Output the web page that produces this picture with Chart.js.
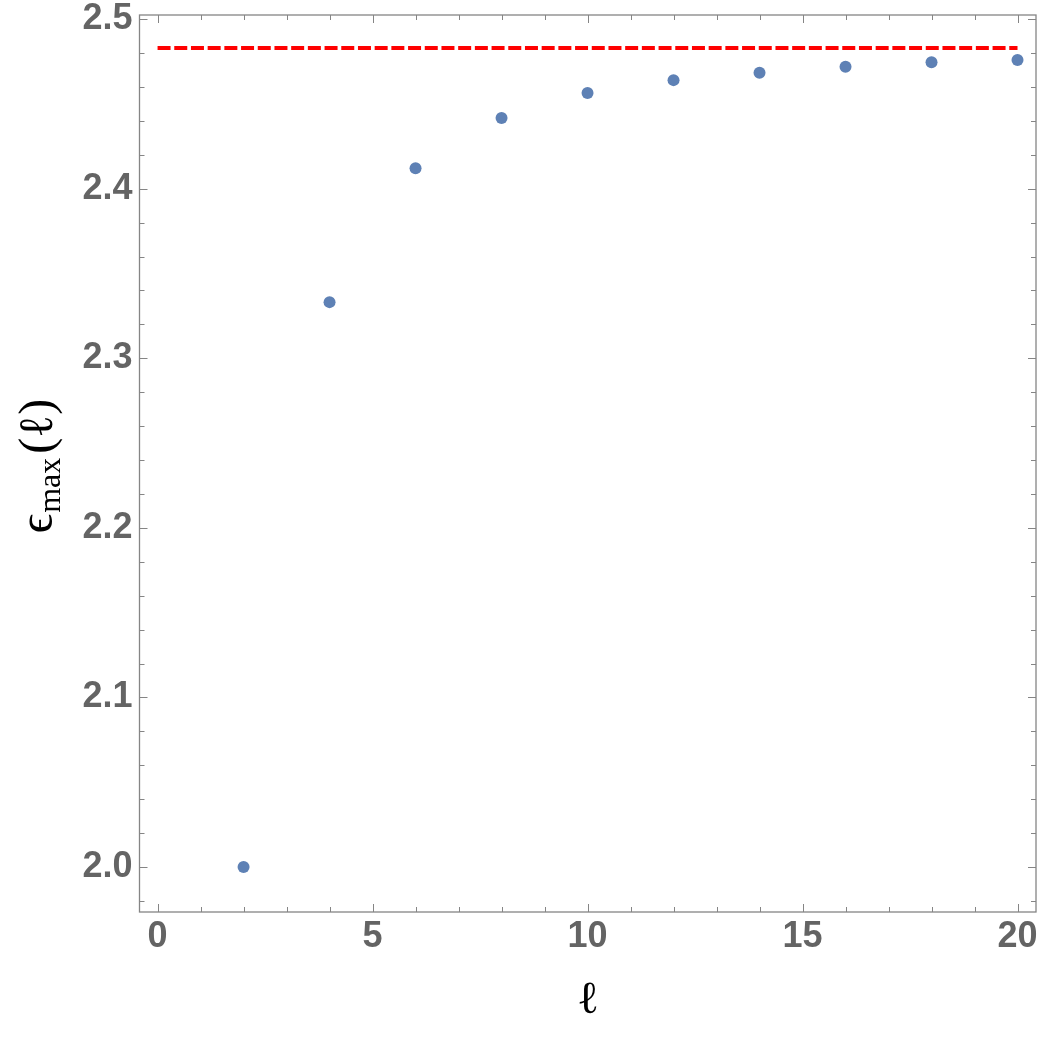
<!DOCTYPE html>
<html>
<head>
<meta charset="utf-8">
<script src="https://cdn.jsdelivr.net/npm/chart.js@4.4.1/dist/chart.umd.min.js"></script>
<style>
  html, body { margin: 0; padding: 0; background: #fff; }
  #wrap { width: 1042px; height: 1040px; position: relative; }
</style>
</head>
<body>
<div id="wrap"><canvas id="plot" width="1042" height="1040"></canvas></div>
<script>
// data
const ells = [2, 4, 6, 8, 10, 12, 14, 16, 18, 20];
const epsMax = [2.0, 2.3331, 2.4121, 2.4416, 2.4564, 2.4640, 2.4683, 2.4719, 2.4745, 2.4758];
const limitX = [0, 20];
const limitY = [2.483, 2.483];
const xTicks = [0, 5, 10, 15, 20];
const yTicks = [2.0, 2.1, 2.2, 2.3, 2.4, 2.5];

const frameColor = '#858585';
const labelColor = '#646464';

// frame with inward ticks on all four sides, plus axis titles
const framePlugin = {
    id: 'frame',
    afterDatasetsDraw(chart) {
        const ctx = chart.ctx;
        const a = chart.chartArea;
        const xs = chart.scales.x;
        const ys = chart.scales.y;
        ctx.save();
        ctx.strokeStyle = frameColor;
        ctx.lineWidth = 1.3;
        ctx.strokeRect(a.left, a.top, a.right - a.left, a.bottom - a.top);

        ctx.lineWidth = 1;
        ctx.beginPath();
        for (let v = 0; v <= 20; v++) {
            const px = Math.round(xs.getPixelForValue(v)) + 0.5;
            const len = v % 5 === 0 ? 8 : 5;
            ctx.moveTo(px, a.bottom); ctx.lineTo(px, a.bottom - len);
            ctx.moveTo(px, a.top); ctx.lineTo(px, a.top + len);
        }
        for (let i = 0; i <= 25; i++) {
            const v = 2.0 + i * 0.02;
            const py = Math.round(ys.getPixelForValue(v)) + 0.5;
            const len = i % 5 === 0 ? 8 : 5;
            ctx.moveTo(a.left, py); ctx.lineTo(a.left + len, py);
            ctx.moveTo(a.right, py); ctx.lineTo(a.right - len, py);
        }
        // minor ticks below 2.0
        const pyLow = Math.round(ys.getPixelForValue(1.98)) + 0.5;
        ctx.moveTo(a.left, pyLow); ctx.lineTo(a.left + 5, pyLow);
        ctx.moveTo(a.right, pyLow); ctx.lineTo(a.right - 5, pyLow);
        ctx.stroke();

        // x title
        ctx.fillStyle = '#000';
        ctx.font = '46px "DejaVu Serif"';
        ctx.textAlign = 'center';
        ctx.textBaseline = 'alphabetic';
        ctx.fillText('ℓ', 588, 1013);

        // y title, rotated
        ctx.translate(52, 466);
        ctx.rotate(-Math.PI / 2);
        const big = '48px "Liberation Serif", "DejaVu Serif"';
        const small = '32px "Liberation Serif", "DejaVu Serif"';
        ctx.font = big;
        const wEps = ctx.measureText('ϵ').width;
        const wPar = ctx.measureText('(ℓ)').width;
        ctx.font = small;
        const wSub = ctx.measureText('max').width;
        let x0 = -(wEps + wSub + 5 + wPar) / 2;
        ctx.textAlign = 'left';
        ctx.font = big;
        ctx.fillText('ϵ', x0, 0);
        ctx.font = small;
        ctx.fillText('max', x0 + wEps + 1, 8);
        ctx.font = big;
        ctx.fillText('(ℓ)', x0 + wEps + wSub + 5, 0);
        ctx.restore();
    }
};

new Chart(document.getElementById('plot'), {
    type: 'scatter',
    data: {
        datasets: [
            {
                label: 'limit',
                type: 'line',
                data: limitX.map((x, i) => ({ x: x, y: limitY[i] })),
                borderColor: '#ff0000',
                borderWidth: 4,
                borderDash: [13, 3.7],
                pointRadius: 0,
                fill: false
            },
            {
                label: 'epsMax',
                data: ells.map((x, i) => ({ x: x, y: epsMax[i] })),
                backgroundColor: '#5e81b5',
                borderWidth: 0,
                pointRadius: 6,
                pointHoverRadius: 6
            }
        ]
    },
    options: {
        responsive: false,
        animation: false,
        devicePixelRatio: 1,
        layout: { padding: { left: 0, top: 15, right: 5.5, bottom: 0 } },
        plugins: {
            legend: { display: false },
            tooltip: { enabled: false }
        },
        scales: {
            x: {
                type: 'linear',
                min: -0.42,
                max: 20.43,
                afterBuildTicks: (s) => { s.ticks = xTicks.map(v => ({ value: v })); },
                afterFit: (s) => { s.height = 128; s.paddingLeft = 0; s.paddingRight = 0; },
                grid: { display: false, drawTicks: false },
                border: { display: false },
                ticks: {
                    padding: 3,
                    maxRotation: 0,
                    autoSkip: false,
                    color: labelColor,
                    font: { family: '"Liberation Sans", Arial, sans-serif', size: 36, weight: 'bold' },
                    callback: (v) => String(v)
                }
            },
            y: {
                type: 'linear',
                min: 1.9735,
                max: 2.5024,
                afterBuildTicks: (s) => { s.ticks = yTicks.map(v => ({ value: v })); },
                afterFit: (s) => { s.width = 139.5; s.paddingTop = 0; s.paddingBottom = 0; },
                grid: { display: false, drawTicks: false },
                border: { display: false },
                ticks: {
                    padding: 7,
                    autoSkip: false,
                    color: labelColor,
                    font: { family: '"Liberation Sans", Arial, sans-serif', size: 36, weight: 'bold' },
                    callback: (v) => v.toFixed(1)
                }
            }
        }
    },
    plugins: [framePlugin]
});
</script>
</body>
</html>
